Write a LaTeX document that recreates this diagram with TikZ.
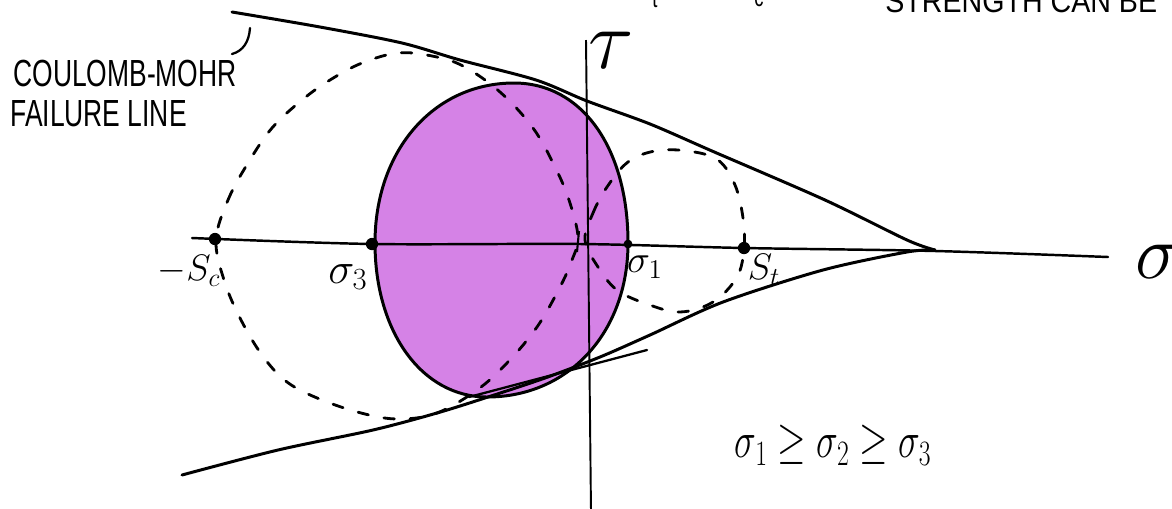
\RequirePackage{fix-cm}
\documentclass[tikz,border=0pt]{standalone}
\usepackage{fontspec}
\setmainfont{Liberation Sans}
\newfontfamily\handfont[FakeStretch=0.70]{Liberation Sans}
\newfontfamily\handwide[FakeStretch=0.88]{Liberation Sans}
\definecolor{mohrpurple}{RGB}{213,130,230}
\begin{document}
\begin{tikzpicture}[x=0.02cm, y=-0.02cm,
  curveline/.style={line width=1.7pt, line cap=round, line join=round},
  dashcurve/.style={line width=1.6pt, dash pattern=on 6pt off 9pt, line cap=round},
  axisline/.style={line width=1.4pt, line cap=round},
  thinaxis/.style={line width=1.1pt},
  dotmark/.style={circle, fill=black, inner sep=0pt, minimum size=7pt},
  lbl/.style={inner sep=0pt},
  capsfont/.style={font=\fontsize{21.5}{25}\selectfont\handfont},
  mathlbl/.style={inner sep=0pt, font=\fontsize{22}{26}\selectfont}]
\useasboundingbox (0,0) rectangle (1172,508);
\clip (0,0) rectangle (1172,508);

% purple Mohr circle (sigma3 .. sigma1)
\coordinate (pL) at (375,243);
\coordinate (pT) at (514,83);
\coordinate (pR) at (628,243);
\coordinate (pB) at (487,397);
\filldraw[fill=mohrpurple, curveline]
  (pL) .. controls (375,150) and (434,83) .. (pT)
       .. controls (582,83) and (628,148) .. (pR)
       .. controls (628,332) and (569,397) .. (pB)
       .. controls (422,397) and (375,332) .. (pL) -- cycle;

% large dashed circle (-Sc .. 0)
\draw[dashcurve] plot[smooth cycle, tension=0.6] coordinates {
  (216,240) (228,200) (248,163) (272,128) (302,100) (330,80) (362,63)
  (398,53) (432,56) (463,66) (500,92) (533,128) (555,167) (569,200)
  (578,237) (572,260) (560,287) (537,327) (507,363) (477,390) (437,413)
  (400,419) (365,414) (322,400) (287,382) (262,355) (240,318) (224,280)};

% small dashed circle (0 .. St)
\draw[dashcurve] plot[smooth cycle, tension=0.6] coordinates {
  (585,240) (593,213) (607,187) (628,162) (655,151) (688,151) (718,160)
  (735,185) (743,218) (744,248) (737,277) (713,302) (680,312) (647,304)
  (617,290) (598,267)};

% sigma axis
\draw[axisline] plot[smooth] coordinates {(192,238) (372,244) (580,244) (744,248) (935,251) (1108,257)};
% tau axis
\draw[thinaxis] (586,40) -- (591,512);
% origin tick
\draw[line width=1.2pt] (579,231) -- (577,252);

% Coulomb-Mohr failure lines
\coordinate (apex) at (935,250);
\draw[curveline] plot[smooth] coordinates {(232,12) (320,27) (402,43) (460,60) (536,80) (587,101) (650,124) (712,151) (825,200) (907,240) (935,250)};
\draw[curveline] plot[smooth] coordinates {(182,475) (278,450) (373,430) (437,413) (488,397) (545,378) (600,357) (650,335) (723,302) (823,270) (907,252) (935,250)};
\coordinate (tA) at (469,397);
\coordinate (tB) at (647,350);
\draw[line width=1.3pt, line cap=round] (tA) -- (tB);

% points on the axis
\node[dotmark] (nsc) at (215,239) {};
\node[dotmark] (ns3) at (372,244) {};
\node[dotmark, minimum size=5pt] (ns1) at (628,244) {};
\node[dotmark] (nst) at (744,248) {};

% labels
\node[mathlbl, font=\fontsize{21}{24}\selectfont] (lsc) at (189,271) {$-S_c$};
\node[mathlbl, font=\fontsize{25}{28}\selectfont] (ls3) at (348,277) {$\sigma_3$};
\node[mathlbl, font=\fontsize{22}{26}\selectfont] (ls1) at (645,267) {$\sigma_1$};
\node[mathlbl, font=\fontsize{21}{24}\selectfont] (lst) at (764,270) {$S_t$};
\node[mathlbl, font=\fontsize{44}{50}\selectfont] (lsig) at (1158,262) {$\sigma$};
\node[mathlbl, font=\fontsize{48}{54}\selectfont] (ltau) at (611,50) {$\tau$};
\node[mathlbl, font=\fontsize{29}{32}\selectfont, transform shape, xscale=0.72] (lineq) at (833,445) {$\sigma_1\geq\sigma_2\geq\sigma_3$};

\node[lbl, capsfont, anchor=base west] (lcm1) at (13,86) {COULOMB-MOHR};
\node[lbl, capsfont, anchor=base west] (lcm2) at (10,126) {FAILURE LINE};
\coordinate (leadbot) at (232,54);
\coordinate (leadtop) at (250,28);
\draw[line width=1.3pt, line cap=round] (leadbot)
  .. controls (243,51) and (249,42) .. (leadtop);

% text cut by the top edge
\node[lbl, font=\fontsize{18.5}{22}\selectfont\handwide, anchor=base west] (ltop) at (885,12) {STRENGTH CAN BE};
\node[lbl, font=\fontsize{15}{18}\selectfont\handfont, anchor=base] (lt) at (655,7) {t};
\node[lbl, font=\fontsize{15}{18}\selectfont\handfont, anchor=base] (lc) at (759,6) {c};
\end{tikzpicture}
\end{document}
